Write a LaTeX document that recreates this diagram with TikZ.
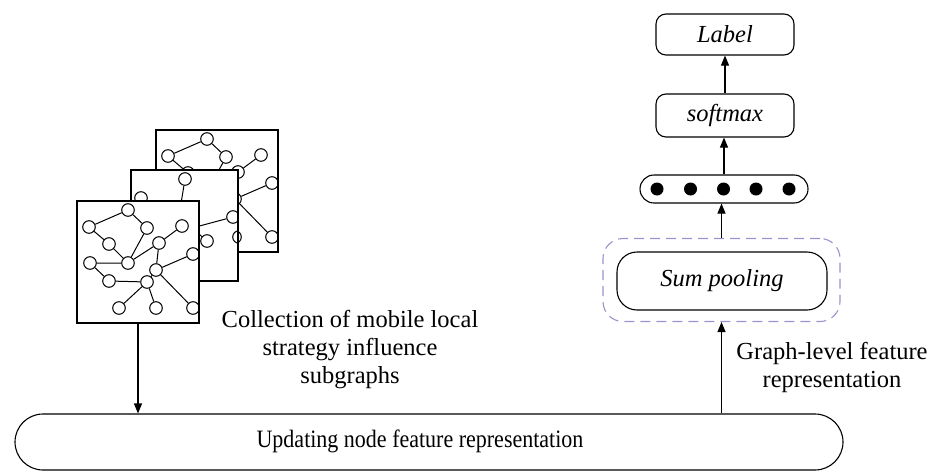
\documentclass[tikz,border=0pt]{standalone}
\usepackage{fontspec}
\setmainfont{Liberation Serif}
\usetikzlibrary{arrows.meta}
\definecolor{lav}{RGB}{160,145,205}
\begin{document}
\begin{tikzpicture}[x=1pt,y=-1pt,
  gnode/.style={circle,draw,fill=white,minimum size=12.6pt,inner sep=0pt,line width=1pt},
  gedge/.style={line width=1pt},
  gbox/.style={draw,line width=1.3pt},
  rbox/.style={draw,rounded corners=10pt,line width=1.1pt,minimum width=138pt,inner sep=0pt,
    font=\itshape\fontsize{24.5}{28}\selectfont},
  dotn/.style={circle,fill=black,minimum size=13pt,inner sep=0pt},
  arr/.style={-{Triangle[length=10pt,width=8pt]},line width=1.1pt},
  lbl/.style={align=center,font=\fontsize{24.5}{28}\selectfont,inner sep=0pt},
  subg/.pic={
    \fill[white] (0,0) rectangle (122,122);
    \begin{scope}
      \clip (0,0) rectangle (122,122);
      \node[gnode] (-a) at (51,9) {};
      \node[gnode] (-b) at (12,26) {};
      \node[gnode] (-c) at (70,27) {};
      \node[gnode] (-d) at (32,43) {};
      \node[gnode] (-e) at (105,25) {};
      \node[gnode] (-f) at (82,42) {};
      \node[gnode] (-g) at (13,62) {};
      \node[gnode] (-h) at (51,62) {};
      \node[gnode] (-i) at (116,53) {};
      \node[gnode] (-j) at (79,69) {};
      \node[gnode] (-k) at (32,80) {};
      \node[gnode] (-l) at (70,81) {};
      \node[gnode] (-m) at (42,107) {};
      \node[gnode] (-n) at (79,107) {};
      \node[gnode] (-o) at (116,107) {};
      \draw[gedge] (-b) -- (-a) (-a) -- (-c) (-b) -- (-d) (-d) -- (-h) (-c) -- (-h)
        (-h) -- (-f) (-f) -- (-e) (-g) -- (-h) (-g) -- (-k) (-k) -- (-l)
        (-f) -- (-j) (-j) -- (-i) (-j) -- (-o) (-l) -- (-j) (-l) -- (-m) (-l) -- (-n);
    \end{scope}
    \draw[gbox] (0,0) rectangle (122,122);
    \coordinate (-bot) at (61,122);
  }]
\useasboundingbox (0,0) rectangle (939,471);

% back subgraph
\pic (bg) at (156,130) {subg};

% middle subgraph
\fill[white] (131,170) rectangle (238,281);
\begin{scope}
  \clip (131,170) rectangle (238,281);
  \node[gnode] (m6) at (178,222) {};
  \node[gnode] (m7) at (192,228) {};
  \node[gnode] (m8) at (160,214) {};
  \node[gnode] (m1) at (185,179) {};
  \node[gnode] (m2) at (141,198) {};
  \node[gnode] (m3) at (233,217) {};
  \node[gnode] (m4) at (207,241) {};
  \node[gnode] (m5) at (239,237) {};
  \draw[gedge] (m1) -- (m6) (m3) -- (m7) (m2) -- (m8) (m4) -- (m7);
\end{scope}
\draw[gbox] (131,170) rectangle (238,281);

% front subgraph
\pic (fg) at (77,201) {subg};

% texts
\node[lbl] (coll) at (350,350) {Collection of mobile local\\strategy influence\\subgraphs};
\node[lbl] (glf) at (832,367) {Graph-level feature\\representation};

% bottom
\node[draw,rounded corners=28pt,line width=1.1pt,minimum width=828pt,minimum height=56pt] (upd) at (429,442) {};
\node[font=\fontsize{25}{28}\selectfont,inner sep=0pt] (updtxt) at (420,441) {\scalebox{0.88}[1]{Updating node feature representation}};

% right column
\node[rbox,minimum height=41pt] (label) at (725,34.5) {Label};
\node[rbox,minimum height=43pt] (softmax) at (725,115.5) {softmax};
\node[draw,rounded corners=14pt,line width=1.1pt,minimum width=168pt,minimum height=28pt] (vec) at (724,189) {};
\node[dotn] (d1) at (657,189) {};
\node[dotn] (d2) at (690.5,189) {};
\node[dotn] (d3) at (723.5,189) {};
\node[dotn] (d4) at (756,189) {};
\node[dotn] (d5) at (789,189) {};
\node[draw=lav,dash pattern=on 10pt off 6pt,rounded corners=20pt,line width=1.1pt,
  minimum width=237pt,minimum height=83pt] (pool) at (721.5,280) {};
\node[draw,rounded corners=20pt,line width=1.1pt,minimum width=210pt,minimum height=58pt,
  font=\itshape\fontsize{24.5}{28}\selectfont] (sum) at (722,281) {Sum pooling};

% arrows
\draw[arr] (softmax.north) -- (label.south);
\draw[arr] (vec.north) -- (vec.north |- softmax.south);
\draw[arr] (pool.north) -- (pool.north |- vec.south);
\draw[arr] (upd.north -| pool.south) -- (pool.south);
\draw[arr] (fg-bot) -- (fg-bot |- upd.north);
\end{tikzpicture}
\end{document}
